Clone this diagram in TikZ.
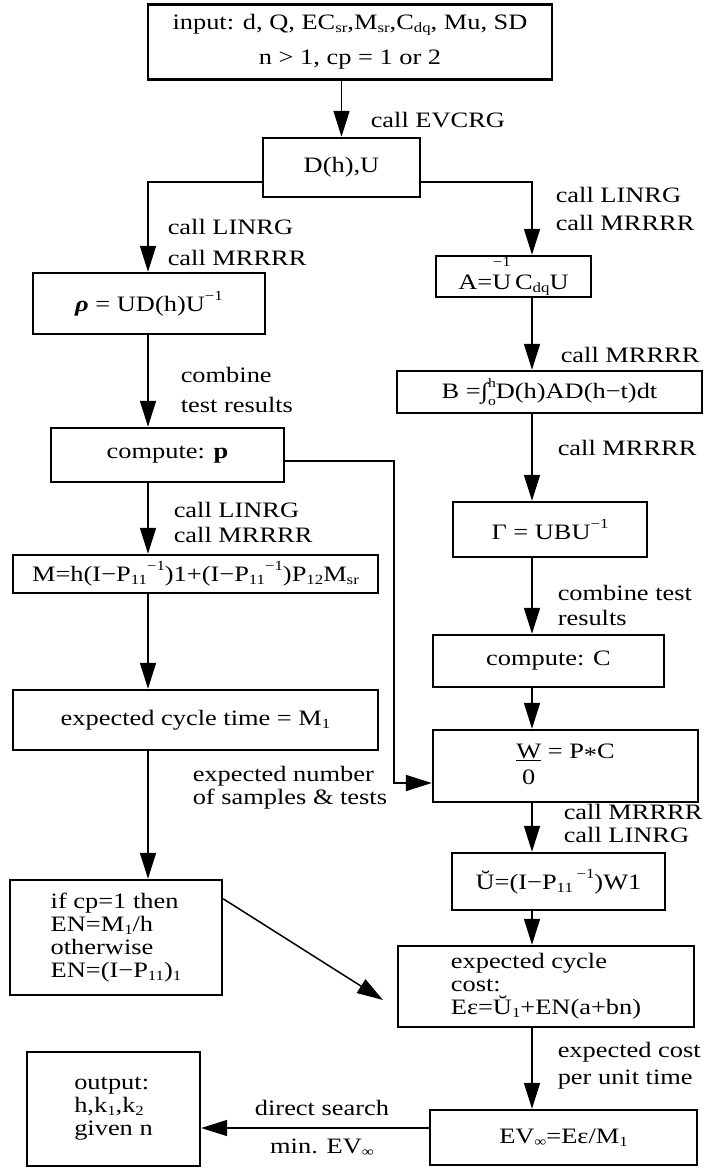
\documentclass[tikz,border=0pt]{standalone}
\usepackage{fontspec}
\setmainfont{Liberation Serif}[FakeStretch=1.2]
\usetikzlibrary{arrows.meta}
\newcommand{\fsz}[1]{\fontsize{22pt}{#1pt}\selectfont}
\newcommand{\lowr}[1]{\raisebox{-0.3ex}{\fontsize{14pt}{14pt}\selectfont #1}}
\newcommand{\uppr}[1]{\raisebox{1.1ex}{\fontsize{14pt}{14pt}\selectfont #1}}
\newcommand{\ovr}[2]{\leavevmode\setbox0=\hbox{#2}\rlap{\hbox to \wd0{\hss\raisebox{2.3ex}{\fontsize{14pt}{14pt}\selectfont #1}\hss}}\box0}
\newcommand{\lims}[2]{\rlap{\raisebox{1.1ex}{\fontsize{13pt}{13pt}\selectfont #1}}\raisebox{-0.7ex}{\fontsize{13pt}{13pt}\selectfont #2}}
\newcommand{\midast}{\raisebox{-0.45ex}{*}}
\begin{document}
\begin{tikzpicture}[x=1pt, y=-1pt, >={Triangle[length=26pt,width=16pt]}, line width=1.5pt, font=\fsz{26},
    box/.style={draw, line width=2.4pt, inner sep=0pt, align=center},
    lbl/.style={anchor=west, inner sep=0pt, align=left}]
    \useasboundingbox (0,0) rectangle (707,1168);

    \node[box, minimum width=404pt, minimum height=75pt, font=\fsz{35}] (inp) at (350,42)
        {input: d, Q, EC\lowr{sr},M\lowr{sr},C\lowr{dq}, Mu, SD\\n > 1, cp = 1 or 2};
    \node[box, minimum width=157pt, minimum height=59pt] (dh) at (341.5,167.5) {D(h),U};

    \node[box, minimum width=232pt, minimum height=61pt] (rho) at (149,303.5)
        {{\bfseries\itshape ρ} = UD(h)U\uppr{−1}};
    \node[box, minimum width=233pt, minimum height=54pt] (cmpp) at (167.5,455) {compute: \textbf{p}};
    \node[box, minimum width=365pt, minimum height=38pt] (mm) at (195.5,574)
        {M=h(I−P\lowr{11}\uppr{−1})1+(I−P\lowr{11}\uppr{−1})P\lowr{12}M\lowr{sr}};
    \node[box, minimum width=365pt, minimum height=60pt] (cyc) at (195.5,720) {expected cycle time = M\lowr{1}};
    \node[box, minimum width=212pt, minimum height=115pt, align=left, font=\fsz{23}] (en) at (116,937.5)
        {if cp=1 then\\EN=M\lowr{1}/h\\otherwise\\EN=(I−P\lowr{11})\lowr{1}};
    \node[box, minimum width=173pt, minimum height=114pt, align=left, font=\fsz{23}] (out) at (113.5,1109)
        {output:\\h,k\lowr{1},k\lowr{2}\\given n};

    \node[box, minimum width=155pt, minimum height=41pt] (aa) at (513.5,276.5) {A=\ovr{−1}{U}\,C\lowr{dq}U};
    \node[box, minimum width=305pt, minimum height=42pt] (bb) at (549.5,392) {B =∫\lims{h}{o}D(h)AD(h−t)dt};
    \node[box, minimum width=194pt, minimum height=55pt] (gam) at (550,529.5) {Γ = UBU\uppr{−1}};
    \node[box, minimum width=231pt, minimum height=52pt] (cmpc) at (548.5,661) {compute: C};
    \node[box, minimum width=265pt, minimum height=72pt] (ww) at (565.5,766)
        {\begin{tabular}{@{}c@{}l@{}}\underline{W} & \ =\ P\midast C\\ 0 & \end{tabular}};
    \node[box, minimum width=213pt, minimum height=57pt] (uu) at (558.5,881.5) {Ŭ=(I−P\lowr{11}\,\uppr{−1})W1};
    \node[box, minimum width=296pt, minimum height=81pt, align=left, font=\fsz{23}] (cost) at (546,986.5)
        {expected cycle\\cost:\\Eε=Ŭ\lowr{1}+EN(a+bn)};
    \node[box, minimum width=267pt, minimum height=55pt] (ev) at (563.5,1137.5) {EV\lowr{∞}=Eε/M\lowr{1}};

    \node[lbl] (l1) at (370,120) {call EVCRG};
    \node[lbl, font=\fsz{31}] (l2) at (167,242) {call LINRG\\call MRRRR};
    \node[lbl, font=\fsz{30}] (l3) at (180,390) {combine\\test results};
    \node[lbl, font=\fsz{25}] (l4) at (173,522) {call LINRG\\call MRRRR};
    \node[lbl, font=\fsz{23}] (l5) at (192,788) {expected number\\of samples \& tests};
    \node[lbl, font=\fsz{28}] (r1) at (555,209) {call LINRG\\call MRRRR};
    \node[lbl] (r2) at (560,355) {call MRRRR};
    \node[lbl] (r3) at (557,448) {call MRRRR};
    \node[lbl, font=\fsz{25}] (r4) at (557,605) {combine test\\results};
    \node[lbl, font=\fsz{23}] (r5) at (563,823) {call MRRRR\\call LINRG};
    \node[lbl, font=\fsz{27}] (r6) at (557,1066) {expected cost\\per unit time};
    \node (s1) at (322,1108) {direct search};
    \node (s2) at (322,1148) {min. EV\lowr{∞}};

    \coordinate (jl) at (148,182);
    \coordinate (jr) at (532,182);
    \coordinate (pr) at (394,783);
    \coordinate (dg) at (383,1000);

    \draw[->] (dh.north |- inp.south) -- (dh.north);
    \draw[->] (dh.west |- jl) -| (jl |- rho.north);
    \draw[->] (dh.east |- jr) -| (jr |- aa.north);
    \foreach \a/\b in {rho/cmpp, cmpp/mm, mm/cyc, cyc/en}
        \draw[->] (jl |- \a.south) -- (jl |- \b.north);
    \foreach \a/\b in {aa/bb, bb/gam, gam/cmpc, cmpc/ww, ww/uu, uu/cost, cost/ev}
        \draw[->] (jr |- \a.south) -- (jr |- \b.north);
    \draw[->] ([yshift=-6pt]cmpp.east) -| (pr) -- (pr -| ww.west);
    \draw[->] ([yshift=-20pt]en.north east) -- (dg);
    \draw[->] ([yshift=9.5pt]ev.west) -- ([yshift=9.5pt]ev.west -| out.east);
\end{tikzpicture}
\end{document}
